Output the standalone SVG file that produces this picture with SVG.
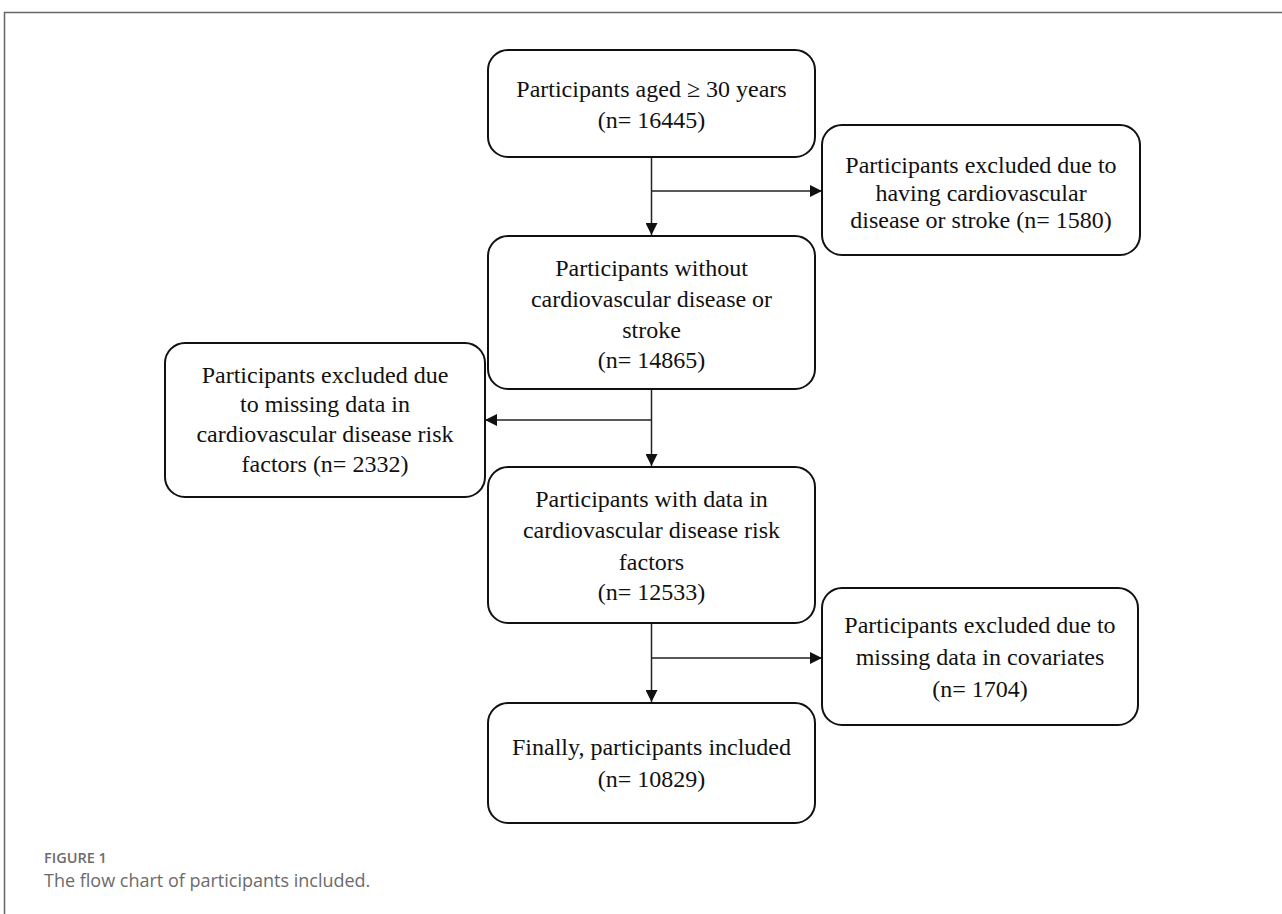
<svg xmlns="http://www.w3.org/2000/svg" width="1282" height="914" viewBox="0 0 1282 914">
<defs>
<style>
.box{fill:#fff;stroke:#111;stroke-width:2}
.t{font-family:"Liberation Serif","Times New Roman",serif;font-size:24px;fill:#111;text-anchor:middle}
.c{fill:none;stroke:#222;stroke-width:1.5}
.cap1{font-family:"Open Sans","Noto Sans",sans-serif;font-size:14.5px;font-weight:600;fill:#6b6b6b}
.cap2{font-family:"Open Sans","Noto Sans",sans-serif;font-size:18px;fill:#6b6b6b}
</style>
<marker id="ah" markerWidth="12" markerHeight="12" refX="12" refY="6" orient="auto" markerUnits="userSpaceOnUse">
<path d="M0,0 L12,6 L0,12 Z" fill="#111"/>
</marker>
</defs>
<rect width="1282" height="914" fill="#fff"/>
<g id="frame">
<path d="M4.5,914 L4.5,12.5 L1282,12.5" fill="none" stroke="#666" stroke-width="1.5"/>
</g>
<g id="connectors">
<path class="c" d="M651.5,157 L651.5,235" marker-end="url(#ah)"/>
<path class="c" d="M651.5,191 L822,191" marker-end="url(#ah)"/>
<path class="c" d="M651.5,389 L651.5,466" marker-end="url(#ah)"/>
<path class="c" d="M651.5,420 L485,420" marker-end="url(#ah)"/>
<path class="c" d="M651.5,623 L651.5,702" marker-end="url(#ah)"/>
<path class="c" d="M651.5,658 L822,658" marker-end="url(#ah)"/>
</g>
<g id="n1">
<rect class="box" x="488" y="50" width="327" height="107" rx="20"/>
<text class="t" x="651.5" y="97">Participants aged ≥ 30 years</text>
<text class="t" x="651.5" y="128">(n= 16445)</text>
</g>
<g id="n2">
<rect class="box" x="822" y="125" width="318" height="130" rx="20"/>
<text class="t" x="981" y="173">Participants excluded due to</text>
<text class="t" x="981" y="201">having cardiovascular</text>
<text class="t" x="981" y="228">disease or stroke (n= 1580)</text>
</g>
<g id="n3">
<rect class="box" x="488" y="236" width="327" height="153" rx="20"/>
<text class="t" x="651.5" y="276">Participants without</text>
<text class="t" x="651.5" y="307">cardiovascular disease or</text>
<text class="t" x="651.5" y="338">stroke</text>
<text class="t" x="651.5" y="368">(n= 14865)</text>
</g>
<g id="n4">
<rect class="box" x="165" y="343" width="320" height="154" rx="20"/>
<text class="t" x="325" y="383">Participants excluded due</text>
<text class="t" x="325" y="412">to missing data in</text>
<text class="t" x="325" y="442">cardiovascular disease risk</text>
<text class="t" x="325" y="472">factors (n= 2332)</text>
</g>
<g id="n5">
<rect class="box" x="488" y="467" width="327" height="156" rx="20"/>
<text class="t" x="651.5" y="507">Participants with data in</text>
<text class="t" x="651.5" y="538">cardiovascular disease risk</text>
<text class="t" x="651.5" y="570">factors</text>
<text class="t" x="651.5" y="600">(n= 12533)</text>
</g>
<g id="n6">
<rect class="box" x="822" y="588" width="316" height="137" rx="20"/>
<text class="t" x="980" y="633">Participants excluded due to</text>
<text class="t" x="980" y="665">missing data in covariates</text>
<text class="t" x="980" y="697">(n= 1704)</text>
</g>
<g id="n7">
<rect class="box" x="488" y="703" width="327" height="120" rx="20"/>
<text class="t" x="651.5" y="755">Finally, participants included</text>
<text class="t" x="651.5" y="787">(n= 10829)</text>
</g>
<g id="caption">
<text class="cap1" x="44" y="863">FIGURE 1</text>
<text class="cap2" x="44" y="887">The flow chart of participants included.</text>
</g>
</svg>
